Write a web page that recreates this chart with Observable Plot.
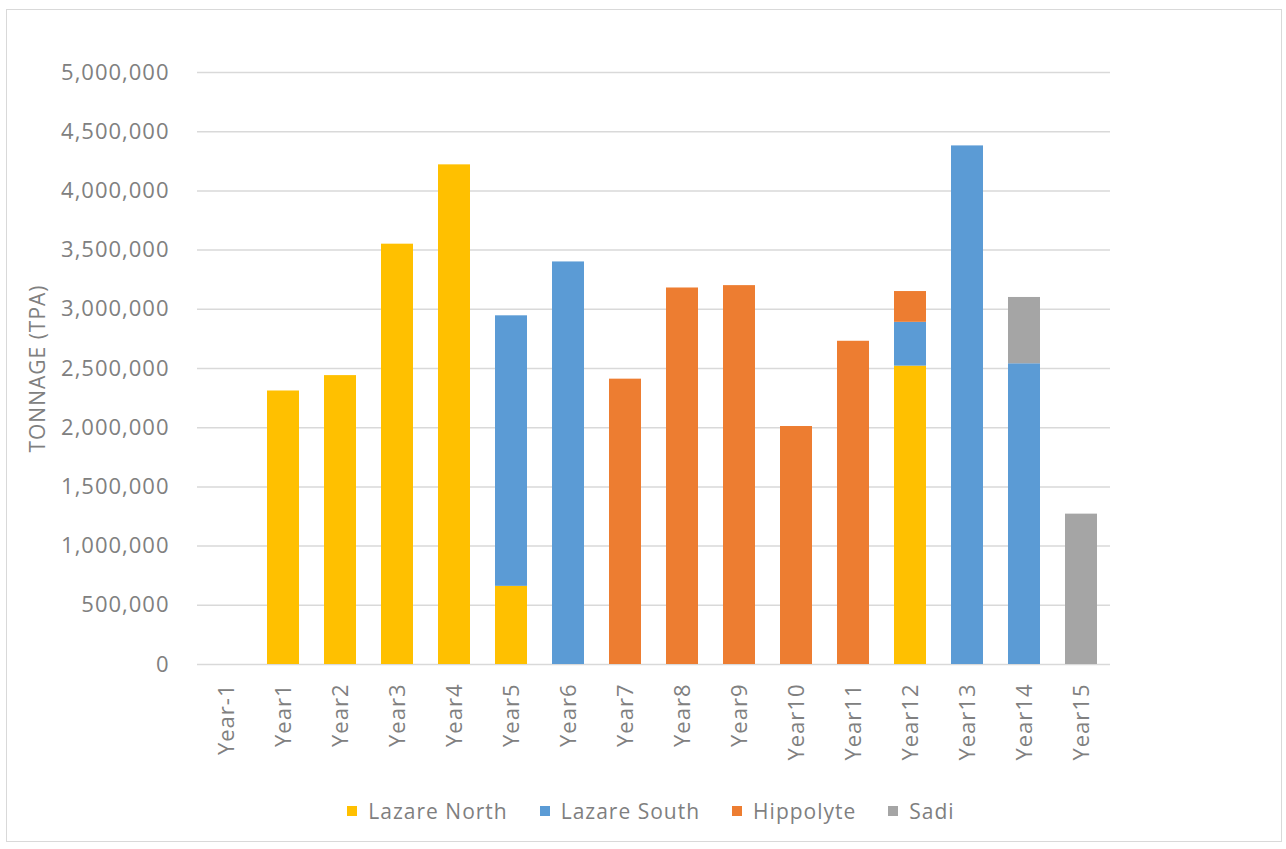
<!DOCTYPE html>
<html>
<head>
<meta charset="utf-8">
<script src="https://cdn.jsdelivr.net/npm/d3@7"></script>
<script src="https://cdn.jsdelivr.net/npm/@observablehq/plot@0.6"></script>
<style>
  body { margin: 0; background: #fff; font-family: "Open Sans", sans-serif; }
  #box { position: absolute; left: 6px; top: 9px; width: 1276px; height: 833px; border: 1px solid #d9d9d9; box-sizing: border-box; }
  #chart { position: absolute; left: 0; top: 0; }
  #legend { position: absolute; left: 14px; right: 0; top: 786px; height: 30px; display: flex; justify-content: center; align-items: center; gap: 32px; font-size: 21px; letter-spacing: 1px; color: #7f7f7f; }
  .item { display: flex; align-items: center; gap: 11px; }
  .sw { width: 10px; height: 10px; display: inline-block; }
</style>
</head>
<body>
<div id="box">
  <div id="chart"></div>
  <div id="legend"></div>
</div>
<script>
const years = ["Year-1","Year1","Year2","Year3","Year4","Year5","Year6","Year7","Year8","Year9","Year10","Year11","Year12","Year13","Year14","Year15"];
const lazareNorth = [0, 2310000, 2440000, 3550000, 4220000, 660000, 0, 0, 0, 0, 0, 0, 2520000, 0, 0, 0];
const lazareSouth = [0, 0, 0, 0, 0, 2285000, 3400000, 0, 0, 0, 0, 0, 370000, 4380000, 2540000, 0];
const hippolyte   = [0, 0, 0, 0, 0, 0, 0, 2410000, 3180000, 3200000, 2010000, 2730000, 260000, 0, 0, 0];
const sadi        = [0, 0, 0, 0, 0, 0, 0, 0, 0, 0, 0, 0, 0, 0, 560000, 1270000];
const seriesNames = ["Lazare North", "Lazare South", "Hippolyte", "Sadi"];
const seriesColors = ["#FFC000", "#5B9BD5", "#ED7D31", "#A5A5A5"];
const yTicks = [0, 500000, 1000000, 1500000, 2000000, 2500000, 3000000, 3500000, 4000000, 4500000, 5000000];
const yTitle = "TONNAGE (TPA)";

const columns = [lazareNorth, lazareSouth, hippolyte, sadi];
const rows = [];
seriesNames.forEach((s, i) => years.forEach((y, j) => rows.push({year: y, series: s, value: columns[i][j]})));

const chart = Plot.plot({
  width: 1274,
  height: 770,
  marginLeft: 190,
  marginRight: 171,
  marginTop: 62,
  marginBottom: 116,
  style: { fontFamily: "Open Sans", fontSize: "22px", letterSpacing: "1px", color: "#808080", background: "transparent" },
  x: { domain: years, paddingInner: 0.44, paddingOuter: 0.22, label: null },
  y: { domain: [0, 5000000], label: null },
  color: { domain: seriesNames, range: seriesColors },
  marks: [
    Plot.ruleY(yTicks, { stroke: "#d9d9d9", strokeWidth: 1.5 }),
    Plot.barY(rows, { x: "year", y: "value", fill: "series" }),
    Plot.axisY(yTicks, { tickFormat: d3.format(","), tickSize: 0, tickPadding: 28, label: null }),
    Plot.axisX({ tickRotate: -90, tickSize: 0, tickPadding: 19, label: null }),
    Plot.text([yTitle], { frameAnchor: "left", textAnchor: "middle", rotate: -90, dx: -159, fontSize: 21, fill: "#808080", text: d => d })
  ]
});
document.getElementById("chart").appendChild(chart);

const legend = document.getElementById("legend");
seriesNames.forEach((s, i) => {
  const it = document.createElement("div");
  it.className = "item";
  const sw = document.createElement("span");
  sw.className = "sw";
  sw.style.background = seriesColors[i];
  const t = document.createElement("span");
  t.textContent = s;
  it.appendChild(sw);
  it.appendChild(t);
  legend.appendChild(it);
});
</script>
</body>
</html>
